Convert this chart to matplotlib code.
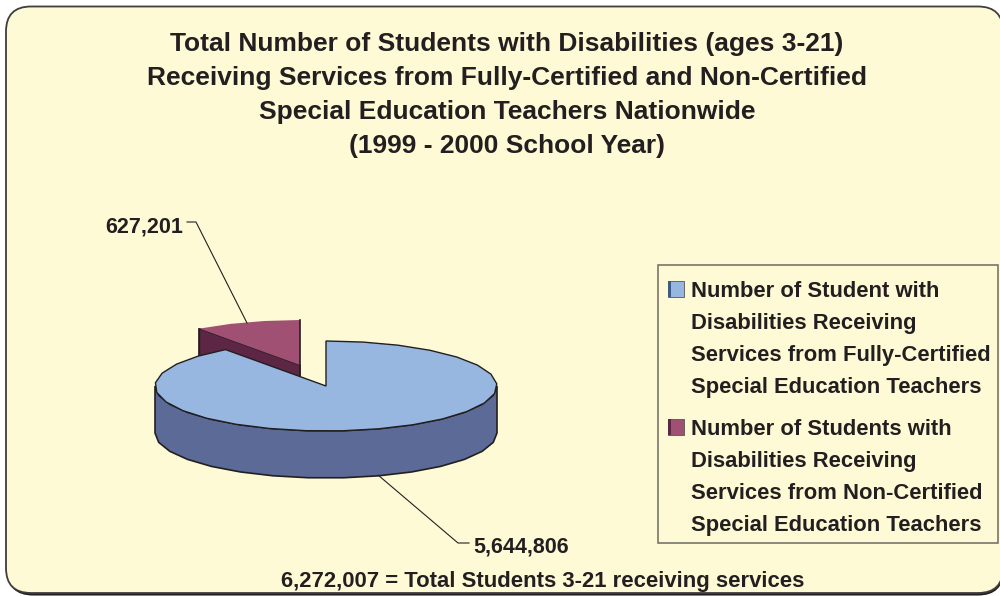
import numpy as np
import matplotlib
matplotlib.use("Agg")
import matplotlib.pyplot as plt
from matplotlib.patches import FancyBboxPatch, Polygon, Rectangle

values = [5644806, 627201]
value_labels = ["5,644,806", "627,201"]
title_lines = [
    "Total Number of Students with Disabilities (ages 3-21)",
    "Receiving Services from Fully-Certified and Non-Certified",
    "Special Education Teachers Nationwide",
    "(1999 - 2000 School Year)",
]
legend_blue = ["Number of Student with", "Disabilities Receiving",
               "Services from Fully-Certified", "Special Education Teachers"]
legend_red = ["Number of Students with", "Disabilities Receiving",
              "Services from Non-Certified", "Special Education Teachers"]
footer = "6,272,007 = Total Students 3-21 receiving services"

plt.rcParams['font.family'] = ['Liberation Sans', 'DejaVu Sans']
panel_col = '#fffad6'
ink = '#231f20'
cx, cy, rx, ry, depth = 326, 386, 171, 45, 47

fig = plt.figure(figsize=(10, 5.96), dpi=100)
ax = fig.add_axes([0, 0, 1, 1])
ax.set_xlim(0, 1000)
ax.set_ylim(596, 0)
ax.axis('off')


def rim(a0, a1, x0, y0, step=12.0):
    # angles clockwise from 12 o'clock, coarse steps like the original's jagged outline
    n = max(int((a1 - a0) / step), 1)
    t = np.radians(np.linspace(a0, a1, n + 1))
    return np.column_stack([x0 + rx * np.sin(t), y0 - ry * np.cos(t)])


# panel, its right edge sits just past the image
ax.add_patch(FancyBboxPatch((8, 9), 995, 585.5, boxstyle="round,pad=0,rounding_size=25",
                            fc=ink, ec=ink, lw=1.5, zorder=1))
ax.add_patch(FancyBboxPatch((6, 6.5), 997, 586.5, boxstyle="round,pad=0,rounding_size=25",
                            fc=panel_col, ec='#3f3d3e', lw=1.3, zorder=2))

# pie angles come from the data, first slice starts at 12 o'clock
total = sum(values)
blue_end = 360 * values[0] / total
ox, oy = cx - 26, cy - 21

# red slice, pulled out
red = rim(blue_end, 360, ox, oy)
ax.add_patch(Polygon([red[0], [ox, oy], [ox, oy + depth], red[0] + [0, depth]],
                     fc='#5c2644', ec=ink, lw=1, zorder=3))
ax.add_patch(Polygon(np.vstack([[ox, oy], red]), fc='#a05073', ec='none', zorder=4))
ax.plot([ox, ox], [oy - ry, oy + depth], color=ink, lw=1.2, zorder=5)
ax.plot([red[0][0]] * 2, [red[0][1], red[0][1] + depth], color=ink, lw=1.2, zorder=5)

# blue slice
front = rim(90, 270, cx, cy)
side = np.vstack([front, (front + [0, depth])[::-1]])
ax.add_patch(Polygon(side, fc='#5b6a96', ec=ink, lw=1.2, zorder=6))
blue = rim(0, blue_end, cx, cy)
ax.add_patch(Polygon(np.vstack([[cx, cy], blue]), fc='#97b7e1', ec=ink, lw=1.0, zorder=7))

# leader lines
ax.plot([187, 196, 247], [222, 222, 323], color=ink, lw=0.8, zorder=8)
ax.plot([378, 458, 469], [475, 543, 543], color=ink, lw=0.8, zorder=8)
ax.text(183, 233, value_labels[1], ha='right', va='baseline', fontsize=15.5, fontweight='bold', color=ink, zorder=9)
ax.text(473, 553, value_labels[0], ha='left', va='baseline', fontsize=15.5, fontweight='bold', color=ink, zorder=9)

for y, line in zip([51, 85, 119, 153], title_lines):
    ax.text(507, y, line, ha='center', va='baseline', fontsize=19, fontweight='bold', color=ink, zorder=9)

# legend
ax.add_patch(Rectangle((658, 265), 340, 278, fc='none', ec='#77776a', lw=1.2, zorder=8))
for base, top, lines, col, dark in [(297, 281, legend_blue, '#97b7e1', '#3e5a85'),
                                    (435, 419, legend_red, '#a05073', '#5c2644')]:
    ax.add_patch(Rectangle((668, top), 16, 16, fc=col, ec='#555555', lw=0.6, zorder=8))
    ax.add_patch(Rectangle((668, top), 3, 16, fc=dark, ec='none', zorder=8))
    for i, line in enumerate(lines):
        ax.text(691, base + i * 32, line, ha='left', va='baseline', fontsize=15.8, fontweight='bold',
                color=ink, zorder=9)

ax.text(542.5, 587, footer, ha='center', va='baseline', fontsize=15.9, fontweight='bold', color=ink, zorder=9)

fig.savefig("out.png", dpi=100, facecolor='white')
